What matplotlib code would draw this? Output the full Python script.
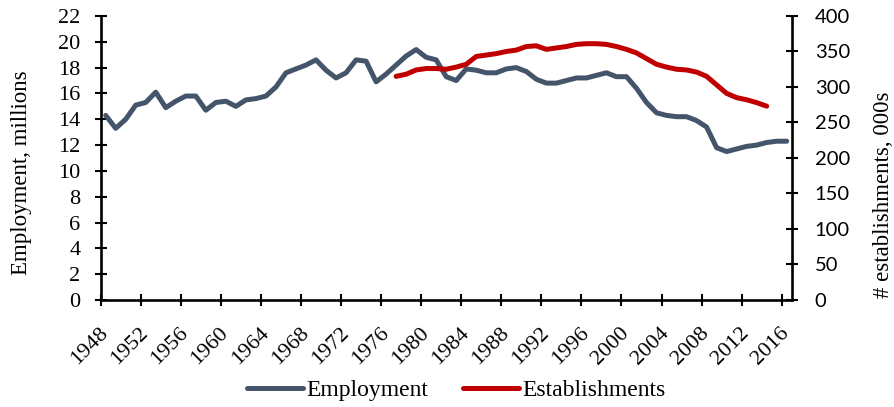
import matplotlib
matplotlib.use("Agg")
import matplotlib.pyplot as plt
import numpy as np
from matplotlib.lines import Line2D

SERIF = "Liberation Serif"
SANS = "Lato"
BLUE = "#44546a"
RED = "#c00000"

# manufacturing employment, millions, 1948-2016
years = np.arange(1948, 2017)
employment = [
    14.3, 13.3, 14.0, 15.1, 15.3, 16.1, 14.9, 15.4, 15.8, 15.8,
    14.7, 15.3, 15.4, 15.0, 15.5, 15.6, 15.8, 16.5, 17.6, 17.9,
    18.2, 18.6, 17.8, 17.2, 17.6, 18.6, 18.5, 16.9, 17.5, 18.2,
    18.9, 19.4, 18.8, 18.6, 17.3, 17.0, 17.9, 17.8, 17.6, 17.6,
    17.9, 18.0, 17.7, 17.1, 16.8, 16.8, 17.0, 17.2, 17.2, 17.4,
    17.6, 17.3, 17.3, 16.4, 15.3, 14.5, 14.3, 14.2, 14.2, 13.9,
    13.4, 11.8, 11.5, 11.7, 11.9, 12.0, 12.2, 12.3, 12.3,
]

# establishments, thousands, 1977-2014
est_years = np.arange(1977, 2015)
establishments = [
    315, 318, 324, 326, 326, 325, 328, 332, 343, 345,
    347, 350, 352, 357, 358, 353, 355, 357, 360, 361,
    361, 360, 357, 353, 348, 340, 332, 328, 325, 324,
    321, 315, 303, 291, 285, 282, 278, 273,
]

tick_years = np.arange(1948, 2017, 4)

W, H = 895, 407
fig = plt.figure(figsize=(W / 100, H / 100), dpi=100)
ax = fig.add_axes([0.1125, 0.2629, 0.7721, 0.6978])
ax2 = ax.twinx()

# Excel-style category axis: points sit in the middle of each year slot
ax.plot(years + 0.5, employment, color=BLUE, lw=3.6,
        solid_capstyle="round", solid_joinstyle="round")
ax2.plot(est_years + 0.5, establishments, color=RED, lw=3.6,
         solid_capstyle="round", solid_joinstyle="round")

ax.set_xlim(1948, 2017)
ax.set_ylim(0, 22)
ax2.set_ylim(0, 400)

ax.set_yticks(np.arange(0, 23, 2))
ax2.set_yticks(np.arange(0, 401, 50))
ax.set_xticks(tick_years)
ax.set_xticklabels([])
ax.set_xticks(tick_years + 0.5, minor=True)
ax.set_xticklabels([str(y) for y in tick_years], minor=True, rotation=45,
                   ha="right", va="center", rotation_mode="anchor",
                   fontfamily=SERIF, fontsize=16)

for a in (ax, ax2):
    a.spines["top"].set_visible(False)
    for s in a.spines.values():
        s.set_linewidth(1.9)
ax2.spines["left"].set_visible(False)
ax2.spines["bottom"].set_visible(False)
ax.spines["right"].set_visible(False)

ax.tick_params(axis="both", which="major", direction="inout", length=9,
               width=1.5, labelsize=16)
ax.tick_params(axis="x", which="minor", length=0, pad=22)
ax.tick_params(axis="y", pad=10)
ax2.tick_params(axis="y", direction="inout", length=9, width=1.5,
                labelsize=14.5, pad=12)
for lab in ax.get_yticklabels():
    lab.set_fontfamily(SERIF)
for lab in ax2.get_yticklabels():
    lab.set_fontfamily(SANS)

# axis titles placed by pixel centre, as in the original layout
fig.text(22 / W, 1 - 173 / H, "Employment, millions", rotation=90,
         ha="center", va="center", fontfamily=SERIF, fontsize=16.5)
fig.text(884 / W, 1 - 195 / H, "# establishments, 000s", rotation=90,
         ha="center", va="center", fontfamily=SERIF, fontsize=16.5)

handles = [Line2D([], [], color=BLUE, lw=3.6, solid_capstyle="round"),
           Line2D([], [], color=RED, lw=3.6, solid_capstyle="round")]
fig.legend(handles, ["Employment", "Establishments"], loc="center",
           bbox_to_anchor=(0.51, 0.04), ncol=2, frameon=False,
           prop={"family": SERIF, "size": 17}, handlelength=2.35,
           columnspacing=1.5, handletextpad=0.15)

fig.savefig("out.png", dpi=100, facecolor="white")
